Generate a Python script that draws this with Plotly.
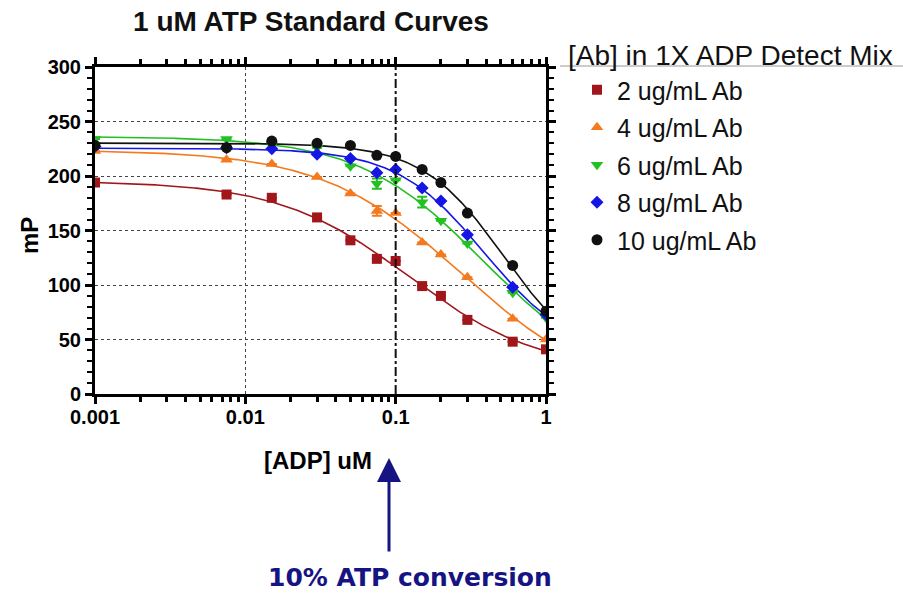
import numpy as np
import plotly.graph_objects as go

# ---------------- data ----------------
adp_um = [0.001, 0.0075, 0.015, 0.03, 0.05, 0.075, 0.1, 0.15, 0.2, 0.3, 0.6, 1.0]

mp_2ug = [194, 183, 180, 162, 141, 124, 122, 99, 90, 68, 48, 41]
mp_4ug = [223, 215, 211, 199, 184, 168, 166, 139, 128, 107, 69, 50]
mp_6ug = [234, 234, 229, 226, 209, 193, 196, 176, 159, 138, 93, 70]
mp_8ug = [227, 226, 225, 220, 216, 203, 206, 189, 177, 146, 98, 73]
mp_10ug = [228, 226, 232, 230, 228, 219, 218, 206, 194, 166, 118, 76]

err_2ug = [0, 0, 0, 0, 0, 0, 0, 0, 0, 0, 0, 0]
err_4ug = [0, 0, 0, 0, 0, 4.5, 0, 0, 0, 0, 0, 0]
err_6ug = [0, 0, 0, 0, 0, 4.6, 0, 5.0, 0, 0, 0, 0]
err_8ug = [0, 0, 0, 0, 0, 0, 0, 0, 0, 0, 0, 0]
err_10ug = [0, 0, 0, 0, 0, 0, 0, 0, 0, 0, 0, 0]

series_names = ["2 ug/mL Ab", "4 ug/mL Ab", "6 ug/mL Ab", "8 ug/mL Ab", "10 ug/mL Ab"]
series_vals = [mp_2ug, mp_4ug, mp_6ug, mp_8ug, mp_10ug]
series_err = [err_2ug, err_4ug, err_6ug, err_8ug, err_10ug]
series_colors = ["#a0161b", "#f47a20", "#22c022", "#1515e6", "#111111"]
series_symbols = ["square", "triangle-up", "triangle-down", "diamond", "circle"]
series_sizes = [10, 11, 11, 10, 11]

x_ticks = [0.001, 0.01, 0.1, 1]
x_ticktext = ["0.001", "0.01", "0.1", "1"]
conversion_x = 0.1


# ---------------- 4-parameter logistic fit of each series ----------------
def model(p, lx):
    with np.errstate(over="ignore", invalid="ignore"):
        return p[1] + (p[0] - p[1]) / (1 + 10 ** ((lx - p[2]) * p[3]))


def fit_4pl(x, y):
    lx = np.log10(np.asarray(x, float))
    y = np.asarray(y, float)
    mid = (y.max() + y.min()) / 2
    p = np.array([y.max(), y.min() - 10, lx[np.argmin(np.abs(y - mid))], 1.0])
    lam = 1e-2
    sse = np.sum((y - model(p, lx)) ** 2)
    for _ in range(400):
        r = y - model(p, lx)
        J = np.empty((len(lx), 4))
        for k in range(4):
            dp = np.zeros(4)
            dp[k] = 1e-6 * max(1.0, abs(p[k]))
            J[:, k] = (model(p + dp, lx) - model(p, lx)) / dp[k]
        A = J.T @ J
        g = J.T @ r
        try:
            step = np.linalg.solve(A + lam * np.diag(np.diag(A) + 1e-9), g)
        except np.linalg.LinAlgError:
            break
        pn = p + step
        pn[3] = np.clip(pn[3], 0.2, 4)
        sn = np.sum((y - model(pn, lx)) ** 2)
        if np.isfinite(sn) and sn < sse:
            p, sse = pn, sn
            lam *= 0.3
        else:
            lam *= 10
            if lam > 1e10:
                break
    return p


x_curve = np.logspace(-3, 0, 300)

fig = go.Figure()

for name, vals, col in zip(series_names, series_vals, series_colors):
    p = fit_4pl(adp_um, vals)
    fig.add_trace(go.Scatter(
        x=x_curve, y=model(p, np.log10(x_curve)), mode="lines",
        line=dict(color=col, width=1.6), showlegend=False, hoverinfo="skip"))

for i, (name, vals, errs, col, sym, sz) in enumerate(zip(series_names, series_vals, series_err,
                                                       series_colors, series_symbols, series_sizes)):
    fig.add_trace(go.Scatter(
        x=adp_um, y=vals, mode="markers", name=name, legendgroup=f"g{i}",
        marker=dict(symbol=sym, size=sz, color=col),
        error_y=dict(type="data", array=errs, visible=True, color=col, thickness=2, width=5)))

axis_common = dict(
    showline=True, linecolor="black", linewidth=3, mirror="ticks",
    ticks="outside", tickcolor="black", tickwidth=3, ticklen=7,
    showgrid=True, gridcolor="#444444", gridwidth=1, griddash="dot",
    zeroline=False,
    tickfont=dict(family="Liberation Sans", size=20, color="black", weight="bold"),
)

fig.update_xaxes(
    type="log", range=[-3, 0], tickvals=x_ticks, ticktext=x_ticktext,
    ticklabelstandoff=-4,
    minor=dict(tickvals=[k * 10 ** e for e in (-3, -2, -1) for k in range(2, 10)],
               ticks="outside", ticklen=5, tickwidth=3, tickcolor="black", showgrid=False),
    **axis_common)
fig.update_yaxes(
    range=[0, 300], dtick=50, tick0=0,
    minor=dict(dtick=10, ticks="outside", ticklen=5, tickwidth=2, tickcolor="black", showgrid=False),
    **axis_common)

fig.add_shape(type="line", xref="x", yref="paper", x0=conversion_x, x1=conversion_x, y0=0, y1=1,
              line=dict(color="#111111", width=2, dash="dashdot"))


# pixel helpers (reference coordinates; plot area 95..546 x 67..394)
def px(xp):
    return (xp - 95) / 451


def py(yp):
    return (394 - yp) / 327


# legend title with underline
fig.add_annotation(text="[Ab] in 1X ADP Detect Mix", xref="paper", yref="paper",
                   x=px(566), y=py(56), xanchor="left", yanchor="middle",
                   showarrow=False, font=dict(family="Liberation Sans", size=28, color="#111111"))
fig.add_shape(type="line", xref="paper", yref="paper",
              x0=px(560), x1=px(903), y0=py(66), y1=py(66),
              line=dict(color="#999999", width=1))

# axis titles
fig.add_annotation(text="<b>mP</b>", xref="paper", yref="paper", x=px(30), y=py(236),
                   xanchor="center", yanchor="middle", textangle=-90, showarrow=False,
                   font=dict(family="Liberation Sans", size=24, color="black"))
fig.add_annotation(text="<b>[ADP] uM</b>", xref="paper", yref="paper", x=px(318), y=py(460),
                   xanchor="center", yanchor="middle", showarrow=False,
                   font=dict(family="Liberation Sans", size=24, color="black"))

# arrow + caption
navy = "#161483"
fig.add_annotation(text="", xref="paper", yref="paper", x=px(389), y=py(458),
                   ax=0, ay=95, showarrow=True, arrowhead=2, arrowsize=1.6, arrowwidth=3,
                   arrowcolor=navy)
fig.add_annotation(text="<b>10% ATP conversion</b>", xref="paper", yref="paper",
                   x=px(410), y=py(577), xanchor="center", yanchor="middle", showarrow=False,
                   font=dict(family="DejaVu Sans", size=25, color=navy))

fig.update_layout(
    width=903, height=594,
    margin=dict(l=95, r=903 - 451 - 95, t=67, b=594 - 327 - 67),
    paper_bgcolor="white", plot_bgcolor="white",
    title=dict(text="<b>1 uM ATP Standard Curves</b>", x=311 / 903,
               xanchor="center", y=1 - 21 / 594, yanchor="middle",
               font=dict(family="Liberation Sans", size=28, color="#111111")),
    legend=dict(x=px(577), y=py(67), xanchor="left", yanchor="top",
                font=dict(family="Liberation Sans", size=25, color="#111111"),
                bgcolor="rgba(0,0,0,0)", tracegroupgap=2, itemsizing="trace"),
    showlegend=True,
)

fig.write_html("out.html", config={"displayModeBar": False},
               post_script="document.body.style.margin='0';document.body.style.overflow='hidden';")
